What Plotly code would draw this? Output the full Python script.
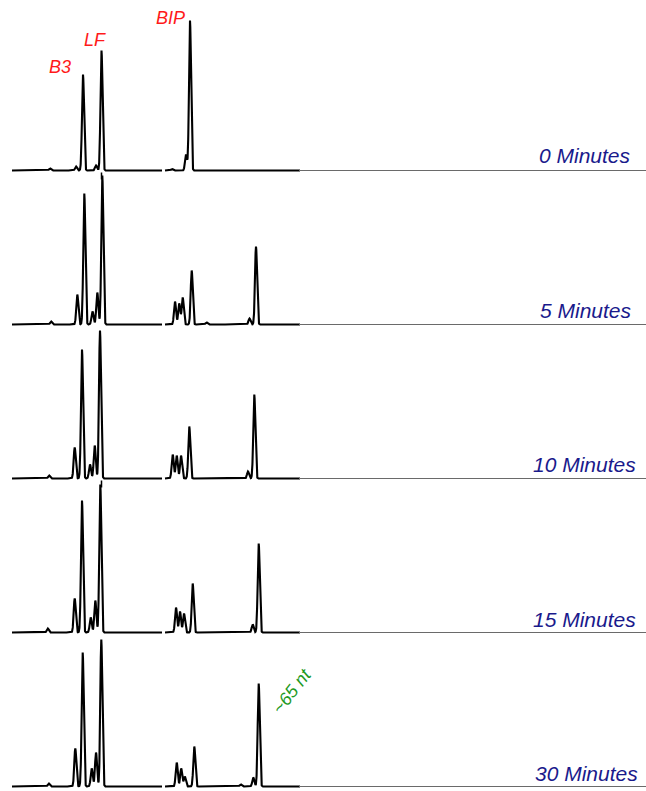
import numpy as np
import plotly.graph_objects as go

# ---- data (migration position, peak height) ----
time_labels = ["0 Minutes", "5 Minutes", "10 Minutes", "15 Minutes", "30 Minutes"]

peaks_0 = [50, 76, 83, 96, 101.5, 172, 186, 190]
heights_0 = [2, 4, 96, 5, 120, 1.5, 16, 150]

peaks_5 = [51, 77.3, 84.3, 92.5, 97.3, 102.3, 175, 179.2, 182.7, 191.7, 206.5, 249.5, 256]
heights_5 = [3, 30, 131, 13, 32, 149, 23, 21, 27, 54, 2, 6, 78]

peaks_10 = [49, 74.7, 82, 90, 94.7, 100, 172.7, 176.7, 181, 189.3, 248, 254.3]
heights_10 = [3, 31, 129, 14, 33, 148, 24, 23, 23, 52, 7, 84]

peaks_15 = [47.7, 74.7, 82, 90.7, 95.3, 100.3, 176, 180, 184, 192.7, 252.7, 258.7]
heights_15 = [4, 34, 132, 15, 32, 148, 25, 21, 19, 49, 8, 89]

peaks_30 = [48.7, 75.3, 82.7, 91.7, 96, 101.3, 176.7, 181.2, 184.8, 194.3, 240.7, 253.3, 258.7]
heights_30 = [3, 38, 134, 18, 34, 147, 24, 18, 10, 40, 2, 9, 103]

peak_names = ["B3", "LF", "BIP"]
product_label = "~65 nt"

panels = [(peaks_0, heights_0), (peaks_5, heights_5), (peaks_10, heights_10),
          (peaks_15, heights_15), (peaks_30, heights_30)]

# ---- layout constants ----
W, H = 646, 791
SIGMA = 1.0
X_START, GAP_A, GAP_B, X_SPLIT, X_END = 12, 162, 165, 300, 646
PANEL_H = 154
BASE0 = 170.5
PAD = 3
FONT = "Liberation Sans, Arial, Helvetica, sans-serif"

fig = go.Figure()
xs = np.round(np.arange(X_START, X_SPLIT + 0.001, 0.1), 2)

layout_axes = {}
for i, (pk, ht) in enumerate(panels):
    y = np.zeros_like(xs)
    for p, h in zip(pk, ht):
        y += h * np.exp(-((xs - p) ** 2) / (2 * SIGMA ** 2))
    y = y.astype(float)
    y[(xs > GAP_A) & (xs < GAP_B)] = np.nan
    yname = "y" if i == 0 else f"y{i+1}"
    fig.add_trace(go.Scatter(x=xs, y=y, mode="lines", xaxis="x", yaxis=yname,
                             line=dict(color="black", width=2.1), connectgaps=False,
                             hoverinfo="skip", showlegend=False))
    # faint baseline continuing to the right edge
    fig.add_trace(go.Scatter(x=[X_SPLIT - 1, X_END], y=[0, 0], mode="lines", xaxis="x",
                             yaxis=yname, line=dict(color="#6a6a6a", width=1.1),
                             hoverinfo="skip", showlegend=False))
    b = BASE0 + PANEL_H * i
    bottom = 1 - (b + PAD) / H
    top = 1 - (b + PAD - PANEL_H) / H
    key = "yaxis" if i == 0 else f"yaxis{i+1}"
    layout_axes[key] = dict(domain=[max(bottom, 0), min(top, 1)], range=[-PAD, PANEL_H - PAD],
                            visible=False, fixedrange=True, anchor="x")

annotations = []
label_right = [633, 634, 638, 638, 640]
label_mid = [155.5, 310.5, 465, 619, 773.5]
for i, t in enumerate(time_labels):
    annotations.append(dict(text=f"<i>{t}</i>", xref="paper", yref="paper",
                            x=label_right[i] / W, y=1 - label_mid[i] / H,
                            xanchor="right", yanchor="middle", showarrow=False,
                            font=dict(family=FONT, size=21, color="#1a1a8c")))

red_pos = [(59.5, 66.5), (95, 39.5), (170, 17.5)]
for name, (px, py) in zip(peak_names, red_pos):
    annotations.append(dict(text=f"<i>{name}</i>", xref="paper", yref="paper",
                            x=px / W, y=1 - py / H, xanchor="center", yanchor="middle",
                            showarrow=False, font=dict(family=FONT, size=18, color="#ff1a1a")))

annotations.append(dict(text=f"<i>{product_label}</i>", xref="paper", yref="paper",
                        x=292 / W, y=1 - 691 / H, xanchor="center", yanchor="middle",
                        showarrow=False, textangle=-52,
                        font=dict(family=FONT, size=18, color="#1f9a1f")))

shapes = []
for i in (0, 2):
    b = BASE0 + PANEL_H * i
    shapes.append(dict(type="line", xref="paper", yref="paper",
                       x0=101.5 / W, x1=101.5 / W, y0=1 - (b + 2) / H, y1=1 - (b + 9) / H,
                       line=dict(color="black", width=1.5)))

fig.update_layout(
    width=W, height=H,
    margin=dict(l=0, r=0, t=0, b=0),
    paper_bgcolor="white", plot_bgcolor="white",
    xaxis=dict(range=[0, W], visible=False, fixedrange=True),
    annotations=annotations, shapes=shapes,
    showlegend=False,
    **layout_axes,
)

fig.write_html("out.html", config={"displayModeBar": False},
               post_script="document.body.style.margin='0';document.body.style.overflow='hidden';")
